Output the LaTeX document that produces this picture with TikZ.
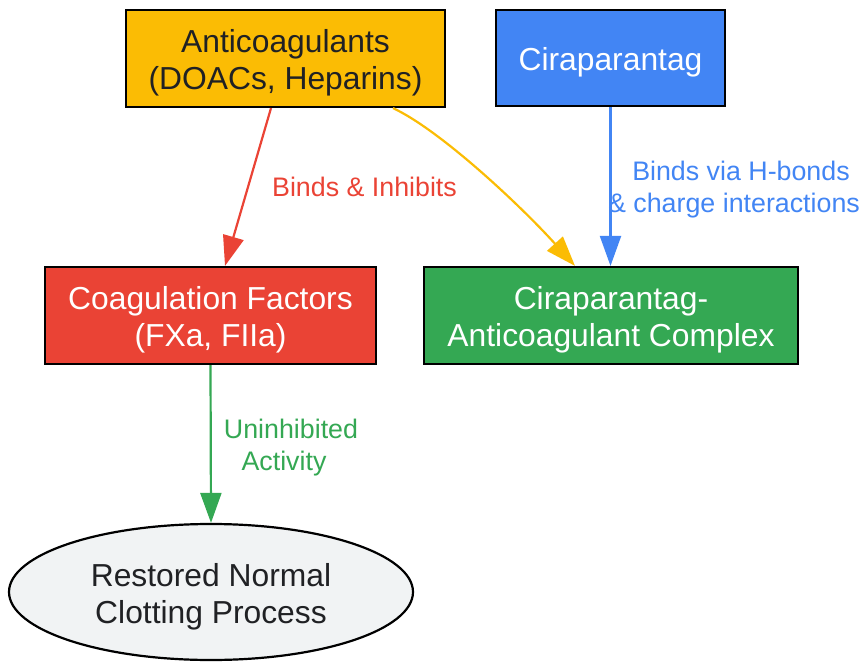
\documentclass[tikz,border=0pt]{standalone}
\usepackage{fontspec}
\setmainfont{Liberation Sans}
\usetikzlibrary{arrows.meta,shapes.geometric}
\definecolor{gyellow}{HTML}{FBBC04}
\definecolor{gblue}{HTML}{4285F4}
\definecolor{gred}{HTML}{EA4335}
\definecolor{ggreen}{HTML}{34A853}
\definecolor{ggray}{HTML}{F1F3F4}
\definecolor{gdark}{HTML}{202124}
\tikzset{
  box/.style={draw=black, line width=2.2pt, rectangle, inner sep=0pt},
  oval/.style={draw=black, line width=2.2pt, ellipse, inner sep=0pt},
  ntext/.style={align=center, inner sep=0pt, font=\fontsize{31.8}{36.7}\selectfont},
  edge/.style={line width=2.2pt, -{Triangle[length=30pt,width=21pt]}},
  elabel/.style={align=center, inner sep=0pt, font=\fontsize{26.8}{32}\selectfont}
}
\begin{document}
\begin{tikzpicture}[x=1pt,y=-1pt]
\useasboundingbox (0,0) rectangle (862,663);
\node[box, fill=gyellow, minimum width=319pt, minimum height=97pt] (anti) at (285.5,58.5) {};
\node[box, fill=gblue, minimum width=229pt, minimum height=96pt] (cira) at (610.5,58) {};
\node[box, fill=gred, minimum width=331pt, minimum height=97pt] (coag) at (210.5,315.5) {};
\node[box, fill=ggreen, minimum width=374pt, minimum height=97pt] (cplx) at (611,315.5) {};
\node[oval, fill=ggray, minimum width=404pt, minimum height=136pt] (rest) at (211,592) {};
\node[ntext, text=gdark] (antit) at ([yshift=-4.5pt]anti.center) {Anticoagulants\\(DOACs, Heparins)};
\node[ntext, text=white] (cirat) at ([yshift=-4.5pt]cira.center) {Ciraparantag};
\node[ntext, text=white] (coagt) at ([yshift=-4.5pt]coag.center) {Coagulation Factors\\(FXa, FIIa)};
\node[ntext, text=white] (cplxt) at ([yshift=-4.5pt]cplx.center) {Ciraparantag-\\Anticoagulant Complex};
\node[ntext, text=gdark] (restt) at ([yshift=-4.5pt]rest.center) {Restored Normal\\Clotting Process};
\coordinate (a1) at ([xshift=-14.5pt]anti.south);
\coordinate (a2) at ([xshift=107.5pt]anti.south);
\coordinate (c1) at ([xshift=14.5pt]coag.north);
\coordinate (c2) at ([xshift=-36pt]cplx.north);
\draw[edge, gred] (a1) -- (c1);
\draw[edge, gyellow] (a2) .. controls (440,130) and (520,205) .. (c2);
\draw[edge, gblue] (cira.south) -- (cira.south |- cplx.north);
\draw[edge, ggreen] (coag.south) -- (rest.north);
\node[elabel, text=gred] (l1) at (364.5,187) {Binds \& Inhibits};
\node[elabel, text=gblue] (l2) at (741,190) {Binds via H-bonds\\\hspace*{-14pt}\& charge interactions};
\node[elabel, text=ggreen] (l3) at (291,448) {Uninhibited\\\hspace*{-14pt}Activity};
\end{tikzpicture}
\end{document}
